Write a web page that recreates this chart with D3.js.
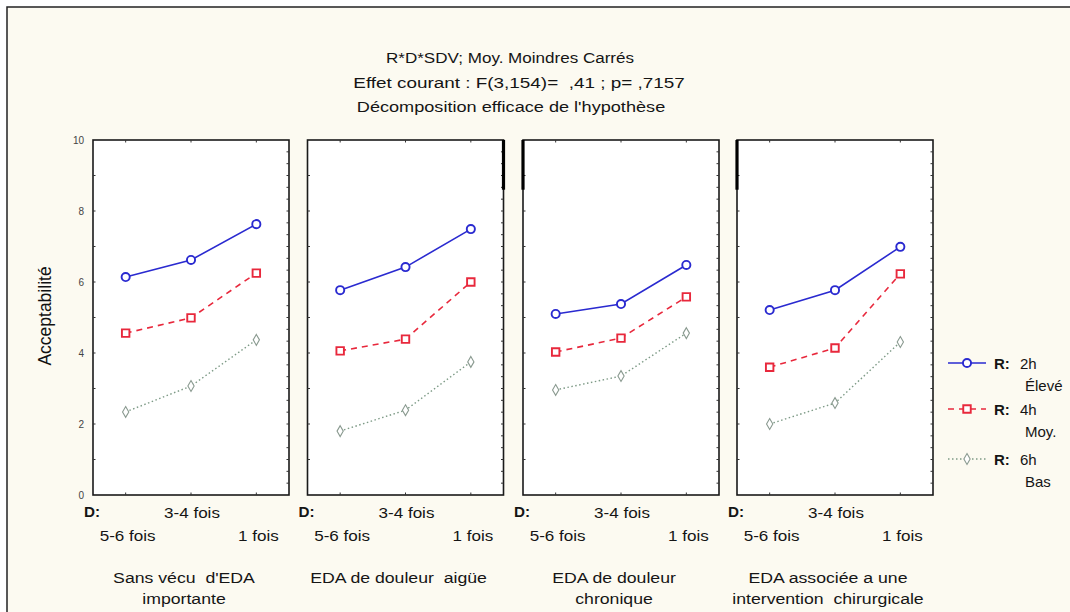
<!DOCTYPE html>
<html><head><meta charset="utf-8">
<script src="https://cdn.jsdelivr.net/npm/d3@7"></script>
<style>
html,body{margin:0;padding:0;background:#fff;}
svg{display:block;font-family:"Liberation Sans",Arial,sans-serif;}
text{white-space:pre;}
</style></head>
<body>
<svg id="chart" width="1070" height="612"></svg>
<script>
const titleLines = ["R*D*SDV; Moy. Moindres Carrés", "Effet courant : F(3,154)=  ,41 ; p= ,7157", "Décomposition efficace de l'hypothèse"];
const yLabel = "Acceptabilité";
const categories = ["5-6 fois", "3-4 fois", "1 fois"];
const panelTitles = [["Sans vécu  d'EDA", "importante"], ["EDA de douleur  aigüe"], ["EDA de douleur", "chronique"], ["EDA associée a une", "intervention  chirurgicale"]];
const yTicks = [0, 2, 4, 6, 8, 10];
const seriesNames = [["2h", "Élevé"], ["4h", "Moy."], ["6h", "Bas"]];
const high2h = [[6.14, 6.62, 7.63], [5.77, 6.42, 7.49], [5.10, 5.38, 6.48], [5.21, 5.77, 6.99]];
const mid4h  = [[4.56, 4.99, 6.25], [4.06, 4.39, 6.00], [4.03, 4.42, 5.58], [3.60, 4.14, 6.23]];
const low6h  = [[2.34, 3.07, 4.37], [1.80, 2.39, 3.75], [2.96, 3.35, 4.56], [2.00, 2.59, 4.31]];

const seriesData = [high2h, mid4h, low6h];
const styles = [
  {color: "#2a2ad0", dash: null, width: 1.6, marker: "circle", mcolor: "#2a2ad0"},
  {color: "#e8283c", dash: "6,5", width: 1.6, marker: "square", mcolor: "#e8283c"},
  {color: "#7d9a86", dash: "1.5,2.5", width: 1.4, marker: "diamond", mcolor: "#8a9a90"}
];

const svg = d3.select("#chart");
svg.append("rect").attr("x", 0).attr("y", 0).attr("width", 1070).attr("height", 612).attr("fill", "#ffffff");
svg.append("rect").attr("x", 7).attr("y", 7).attr("width", 1070).attr("height", 620)
  .attr("fill", "#fcfaf1").attr("stroke", "#222").attr("stroke-width", 1.5);

function stext(parent, x, y, str, size, sx, anchor, bold) {
  return parent.append("text")
    .attr("transform", `translate(${x},${y}) scale(${sx},1)`)
    .attr("text-anchor", anchor || "start")
    .attr("font-size", size).attr("font-weight", bold ? "bold" : "normal")
    .attr("fill", "#151515").text(str);
}

// titles
const titleY = [63, 88, 112];
const titleSx = [1.1, 1.22, 1.17];
const titleCx = [510, 519, 511];
titleLines.forEach((t, i) => stext(svg, titleCx[i], titleY[i], t, 15.5, titleSx[i], "middle"));

const y = d3.scaleLinear().domain([0, 10]).range([495, 140]);
const panelX = [93, 307.5, 523, 737];
const panelW = 196;

// y axis label
svg.append("text").attr("transform", "translate(51,316) rotate(-90)").attr("text-anchor", "middle")
  .attr("font-size", 17.5).attr("fill", "#111").text(yLabel);

// y tick labels (left of first panel)
const yAxis = d3.axisLeft(y).tickValues(yTicks).tickSize(0).tickPadding(9).tickFormat(d3.format("d"));
const ya = svg.append("g").attr("transform", `translate(${panelX[0]},0)`).call(yAxis);
ya.select(".domain").remove();
ya.selectAll("text").attr("font-size", 10).attr("fill", "#444").attr("font-family", "Liberation Sans, Arial");

const markerPath = {
  circle: d3.symbol().type(d3.symbolCircle).size(52),
  square: d3.symbol().type(d3.symbolSquare).size(56),
  diamond: d3.symbol().type(d3.symbolDiamond).size(34)
};

panelX.forEach((px, p) => {
  const g = svg.append("g");
  const x = d3.scalePoint().domain(categories).range([px, px + panelW]).padding(0.5);
  g.append("rect").attr("x", px).attr("y", y(10)).attr("width", panelW).attr("height", y(0) - y(10))
    .attr("fill", "#ffffff").attr("stroke", "#1a1a1a").attr("stroke-width", 1.6);
  // left inner minor ticks
  d3.range(1, 10).forEach(v => {
    g.append("line").attr("x1", px).attr("x2", px + 2.5).attr("y1", y(v)).attr("y2", y(v)).attr("stroke", "#333").attr("stroke-width", 1);
  });
  // right inner ticks
  d3.range(1, 30).forEach(k => {
    g.append("line").attr("x1", px + panelW - 2.5).attr("x2", px + panelW).attr("y1", y(k / 3)).attr("y2", y(k / 3)).attr("stroke", "#333").attr("stroke-width", 1);
  });
  // top/bottom ticks at categories
  categories.forEach(c => {
    g.append("line").attr("x1", x(c)).attr("x2", x(c)).attr("y1", y(10)).attr("y2", y(10) + 2.5).attr("stroke", "#333");
    g.append("line").attr("x1", x(c)).attr("x2", x(c)).attr("y1", y(0)).attr("y2", y(0) - 2.5).attr("stroke", "#333");
  });
  // thick border artefacts near the top
  if (p === 1) g.append("line").attr("x1", px + panelW).attr("x2", px + panelW).attr("y1", y(10)).attr("y2", y(8.6)).attr("stroke", "#000").attr("stroke-width", 3.2);
  if (p >= 2) g.append("line").attr("x1", px).attr("x2", px).attr("y1", y(10)).attr("y2", y(8.6)).attr("stroke", "#000").attr("stroke-width", 3.2);
  // series
  seriesData.forEach((sd, s) => {
    const st = styles[s];
    const vals = sd[p];
    const line = d3.line().x((d, i) => x(categories[i])).y(d => y(d));
    g.append("path").attr("d", line(vals)).attr("fill", "none").attr("stroke", st.color)
      .attr("stroke-width", st.width).attr("stroke-dasharray", st.dash);
    vals.forEach((v, i) => {
      g.append("path").attr("d", markerPath[st.marker]())
        .attr("transform", `translate(${x(categories[i])},${y(v)})`)
        .attr("fill", "#fff").attr("stroke", st.mcolor).attr("stroke-width", st.marker === "diamond" ? 1.1 : 1.9);
    });
  });
  // x labels
  stext(g, px - 9, 517, "D:", 14.5, 1.05, "start", true);
  stext(g, x(categories[1]) + 1, 518, categories[1], 15.5, 1.1, "middle");
  stext(g, x(categories[0]) + 2, 541, categories[0], 15.5, 1.1, "middle");
  stext(g, x(categories[2]) + 2, 541, categories[2], 15.5, 1.1, "middle");
  panelTitles[p].forEach((t, i) => stext(g, px + panelW / 2 - 7, 583 + i * 21, t, 15.5, 1.14, "middle"));
});

// legend
const legY = [363, 409, 459];
seriesNames.forEach((nm, s) => {
  const st = styles[s];
  const g = svg.append("g");
  g.append("line").attr("x1", 948).attr("x2", 986).attr("y1", legY[s]).attr("y2", legY[s])
    .attr("stroke", st.color).attr("stroke-width", st.width).attr("stroke-dasharray", st.dash);
  g.append("path").attr("d", markerPath[st.marker]()).attr("transform", `translate(967,${legY[s]})`)
    .attr("fill", "#fff").attr("stroke", st.mcolor).attr("stroke-width", st.marker === "diamond" ? 1.1 : 1.9);
  stext(g, 994, legY[s] + 6, "R:", 15, 1.0, "start", true);
  stext(g, 1020, legY[s] + 6, nm[0], 15, 1.0, "start");
  stext(g, 1025, legY[s] + 28, nm[1], 15, 1.0, "start");
});
</script>
</body></html>
